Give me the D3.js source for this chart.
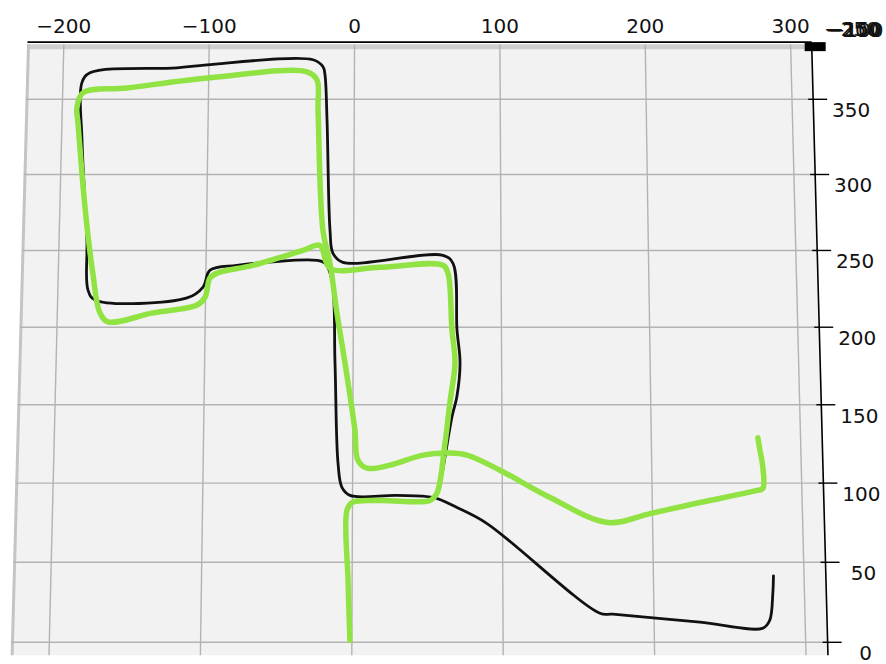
<!DOCTYPE html>
<html>
<head>
<meta charset="utf-8">
<script src="https://cdn.jsdelivr.net/npm/d3@7"></script>
<style>
  body { margin: 0; background: #fff; }
  text { font-family: "DejaVu Sans", sans-serif; }
</style>
</head>
<body>
<div id="chart"></div>
<script>
// axis ticks
const xTicks = [-200, -100, 0, 100, 200, 300];
const yTicks = [0, 50, 100, 150, 200, 250, 300, 350];
const zTickLabels = ['\u2212250', '\u2212200', '\u2212150', '\u2212100'];
const xLimits = [-225, 314.5];
const yLimits = [-8, 387];

// black trajectory
const blackX = [56.3, 58.4, 66.5, 69.8, 72.0, 70.0, 67.4, 60.6, -7.2, -14.0, -16.1, -18.6, -20.2, -21.6, -28.5,
  -101.3, -121.9, -181.6, -187.0, -186.0, -181.1, -179.6, -174.7, -112.5, -101.8, -97.2, -79.1, -24.8, -19.4,
  -14.6, -12.2, -9.8, -7.1, -1.7, 29.6, 53.7, 69.7, 89.7, 164.2, 172.8, 230.3, 272.0, 276.6, 279.0, 279.7];
const blackY = [94.1, 99.8, 142.3, 155.1, 177.0, 198.3, 241.6, 246.8, 242.2, 248.1, 263.2, 336.2, 366.4, 371.8, 376.5,
  373.1, 371.1, 367.7, 361.0, 322.9, 256.6, 224.1, 217.7, 219.0, 226.1, 237.1, 240.3, 243.5, 241.6,
  230.6, 177.0, 112.7, 97.3, 92.2, 92.2, 90.9, 84.5, 74.4, 18.1, 17.5, 12.5, 8.8, 13.8, 30.4, 41.5];

// green trajectory
const greenX = [-1.3, -2.7, -3.7, -0.3, 18.3, 51.7, 56.3, 61.8, 65.1, 68.6, 66.6, 64.0, 60.6, 17.9, -16.0,
  -22.9, -34.4, -68.2, -92.5, -97.3, -100.3, -105.7, -135.4, -165.6, -171.2, -176.6, -182.9, -189.0, -190.0,
  -186.1, -155.9, -99.1, -32.6, -25.7, -24.8, -20.9, -16.0, -11.1, -5.5, 1.4, 3.5, 9.6, 24.9, 47.1, 65.1,
  76.5, 98.5, 131.8, 170.3, 198.4, 231.8, 270.0, 274.0, 274.3, 272.6, 271.4];
const greenY = [1.4, 38.5, 82.6, 87.7, 89.0, 89.0, 93.5, 125.5, 151.3, 177.0, 198.3, 235.1, 240.3, 239.0, 238.4,
  253.3, 250.0, 240.3, 235.1, 231.9, 219.6, 214.4, 209.3, 203.5, 209.3, 235.1, 278.4, 334.2, 344.2,
  354.3, 357.6, 364.4, 368.4, 363.0, 342.9, 263.2, 241.6, 209.3, 177.0, 133.9, 114.6, 109.5, 111.4, 117.8, 119.1,
  117.8, 108.2, 90.9, 75.0, 80.7, 87.7, 95.4, 96.6, 110.1, 121.0, 128.8];

const width = 886;
const height = 664;

// slightly tilted top-down view: data -> unit square -> screen quad
const xs = d3.scaleLinear().domain([-200, 300]).range([0, 1]);
const ys = d3.scaleLinear().domain([350, 0]).range([0, 1]);
const quad = [[62.5, 99.3], [792, 99.3], [805.7, 642.3], [49.3, 642.3]];

function squareToQuad(q) {
    const [x0, y0] = q[0], [x1, y1] = q[1], [x2, y2] = q[2], [x3, y3] = q[3];
    const dx1 = x1 - x2, dx2 = x3 - x2, dx3 = x0 - x1 + x2 - x3;
    const dy1 = y1 - y2, dy2 = y3 - y2, dy3 = y0 - y1 + y2 - y3;
    const den = dx1 * dy2 - dx2 * dy1;
    const g = (dx3 * dy2 - dx2 * dy3) / den;
    const h = (dx1 * dy3 - dx3 * dy1) / den;
    const a = x1 - x0 + g * x1, b = x3 - x0 + h * x3, c = x0;
    const d = y1 - y0 + g * y1, e = y3 - y0 + h * y3, f = y0;
    return (u, v) => {
        const w = g * u + h * v + 1;
        return [(a * u + b * v + c) / w, (d * u + e * v + f) / w];
    };
}
const H = squareToQuad(quad);
const project = (x, y) => H(xs(x), ys(y));

const svg = d3.select('#chart')
    .append('svg')
    .attr('width', width)
    .attr('height', height);

const [x0, x1] = xLimits;
const [y0, y1] = yLimits;
const tl = project(x0, y1), tr = project(x1, y1), br = project(x1, y0), bl = project(x0, y0);

// pane
svg.append('polygon')
    .attr('points', [tl, tr, br, bl].map(p => p.join(',')).join(' '))
    .attr('fill', '#f2f2f2');

// back walls seen edge-on
svg.append('polygon')
    .attr('points', [tl, tr, [tr[0], tr[1] + 5], [tl[0], tl[1] + 5]].map(p => p.join(',')).join(' '))
    .attr('fill', '#cfcfcf');
svg.append('line')
    .attr('x1', tl[0] + 1).attr('y1', tl[1])
    .attr('x2', bl[0] + 1).attr('y2', bl[1])
    .attr('stroke', '#c4c4c4')
    .attr('stroke-width', 3);

// grid
const grid = svg.append('g').attr('stroke', '#b3b3b3').attr('stroke-width', 1.4);
xTicks.forEach(t => {
    const a = project(t, y1), b = project(t, y0);
    grid.append('line').attr('x1', a[0]).attr('y1', a[1]).attr('x2', b[0]).attr('y2', b[1]);
});
yTicks.forEach(t => {
    const a = project(x0, t), b = project(x1, t);
    grid.append('line').attr('x1', a[0]).attr('y1', a[1]).attr('x2', b[0]).attr('y2', b[1]);
});

// trajectories
const line = d3.line()
    .x(d => project(d[0], d[1])[0])
    .y(d => project(d[0], d[1])[1])
    .curve(d3.curveCatmullRom.alpha(0.5));

svg.append('path')
    .datum(d3.zip(blackX, blackY))
    .attr('d', line)
    .attr('fill', 'none')
    .attr('stroke', '#111')
    .attr('stroke-width', 2.8)
    .attr('stroke-linejoin', 'round')
    .attr('stroke-linecap', 'round');

svg.append('path')
    .datum(d3.zip(greenX, greenY))
    .attr('d', line)
    .attr('fill', 'none')
    .attr('stroke', '#90e342')
    .attr('stroke-width', 5.5)
    .attr('stroke-linejoin', 'round')
    .attr('stroke-linecap', 'round');

// top x axis
svg.append('line')
    .attr('x1', tl[0]).attr('y1', tl[1] - 2)
    .attr('x2', tr[0]).attr('y2', tr[1] - 2)
    .attr('stroke', '#000')
    .attr('stroke-width', 1.6);

svg.append('g').selectAll('text')
    .data(xTicks)
    .join('text')
    .attr('x', d => project(d, y1)[0])
    .attr('y', tl[1] - 11)
    .attr('text-anchor', 'middle')
    .attr('font-size', 20)
    .attr('fill', '#111')
    .text(d => d < 0 ? '\u2212' + Math.abs(d) : d);

// right y axis
svg.append('line')
    .attr('x1', tr[0]).attr('y1', tr[1])
    .attr('x2', br[0]).attr('y2', br[1])
    .attr('stroke', '#000')
    .attr('stroke-width', 1.6);

const yAxis = svg.append('g');
yTicks.forEach(t => {
    const p = project(x1, t);
    yAxis.append('line')
        .attr('x1', p[0] - 5).attr('y1', p[1])
        .attr('x2', p[0] + 14).attr('y2', p[1])
        .attr('stroke', '#000')
        .attr('stroke-width', 1.4);
    yAxis.append('text')
        .attr('x', p[0] + 38)
        .attr('y', p[1] + 18)
        .attr('text-anchor', 'middle')
        .attr('font-size', 20)
        .attr('fill', '#111')
        .text(t);
});

// collapsed z axis in the corner
svg.append('rect')
    .attr('x', tr[0] - 7).attr('y', tr[1] - 2)
    .attr('width', 21).attr('height', 9)
    .attr('fill', '#000');
svg.append('g').selectAll('text')
    .data(zTickLabels)
    .join('text')
    .attr('x', (d, i) => 824 + i * 1.5)
    .attr('y', (d, i) => 36 + (i % 2))
    .attr('font-size', 20)
    .attr('fill', '#111')
    .text(d => d);
</script>
</body>
</html>
